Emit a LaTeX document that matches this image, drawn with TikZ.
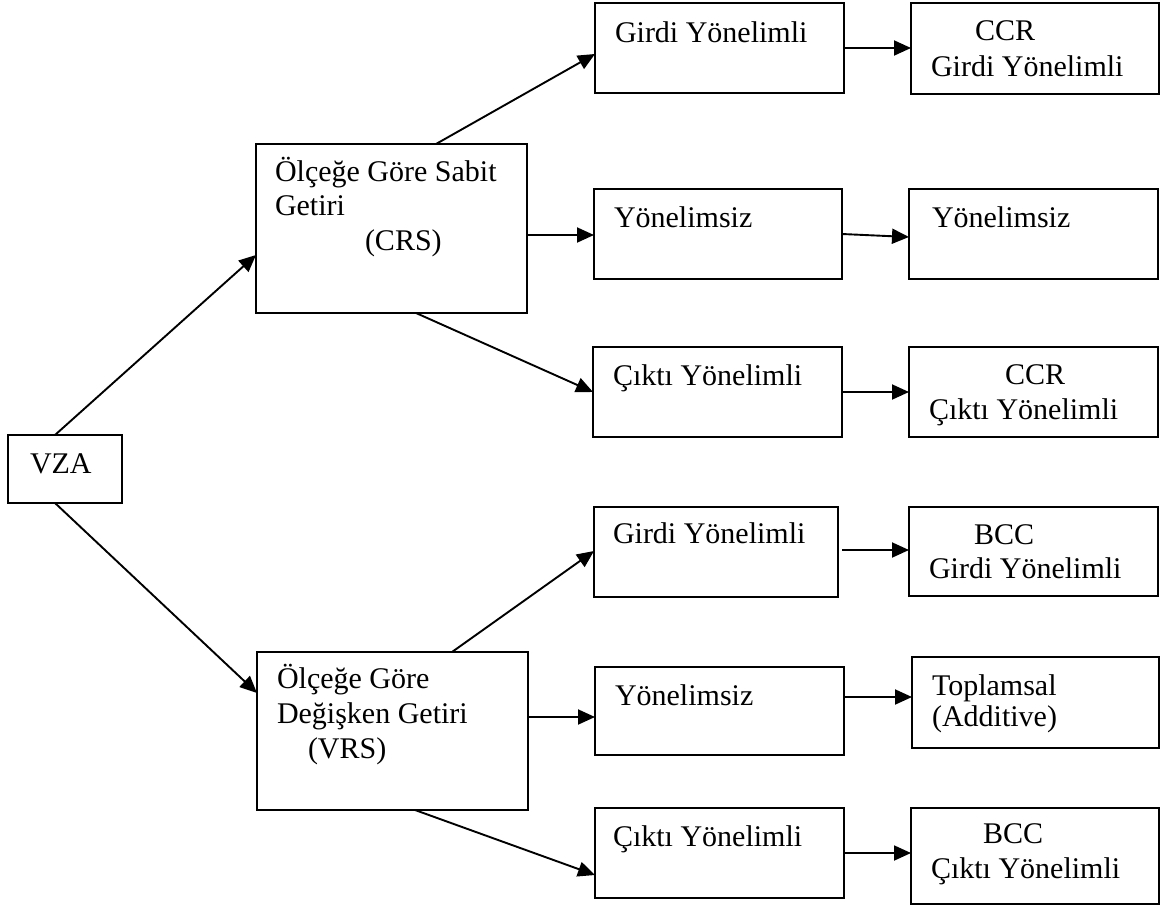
\documentclass[tikz,border=0pt]{standalone}
\usepackage{fontspec}
\setmainfont{Liberation Serif}
\usetikzlibrary{arrows.meta}
\tikzset{
  box/.style={draw=black, line width=2pt, rectangle, anchor=north west, inner sep=0pt, outer sep=0pt},
  txt/.style={anchor=base west, inner sep=0pt, outer sep=0pt, font=\fontsize{30}{34}\selectfont},
  arr/.style={line width=1.9pt, -{Triangle[length=17pt,width=15pt]}}
}
\begin{document}
\begin{tikzpicture}[x=1pt,y=-1pt]
\useasboundingbox (0,0) rectangle (1162,905);
% boxes
\node[box, minimum width=114pt, minimum height=68pt] (vza) at (8,435) {};
\node[box, minimum width=271pt, minimum height=169pt] (crs) at (256,144) {};
\node[box, minimum width=271pt, minimum height=158pt] (vrs) at (257,652) {};
\node[box, minimum width=249pt, minimum height=90pt] (g1) at (595,3) {};
\node[box, minimum width=248pt, minimum height=90pt] (y1) at (594,189) {};
\node[box, minimum width=249pt, minimum height=90pt] (c1) at (593,347) {};
\node[box, minimum width=244pt, minimum height=90pt] (g2) at (594,507) {};
\node[box, minimum width=249pt, minimum height=88pt] (y2) at (595,667) {};
\node[box, minimum width=249pt, minimum height=90pt] (c2) at (595,808) {};
\node[box, minimum width=248pt, minimum height=91pt] (ccrg) at (911,3) {};
\node[box, minimum width=249pt, minimum height=90pt] (yy) at (909,189) {};
\node[box, minimum width=249pt, minimum height=90pt] (ccrc) at (909,347) {};
\node[box, minimum width=249pt, minimum height=89pt] (bccg) at (909,507) {};
\node[box, minimum width=247pt, minimum height=91pt] (topl) at (912,657) {};
\node[box, minimum width=248pt, minimum height=96pt] (bccc) at (911,808) {};
% texts
\node[txt] (tvza) at (30,473) {VZA};
\node[txt] (tcrs1) at (275,181) {Ölçeğe Göre Sabit};
\node[txt] (tcrs2) at (275,215) {Getiri};
\node[txt] (tcrs3) at (365,250) {(CRS)};
\node[txt] (tvrs1) at (277,688) {Ölçeğe Göre};
\node[txt] (tvrs2) at (277,723) {Değişken Getiri};
\node[txt] (tvrs3) at (308,758) {(VRS)};
\node[txt] (tg1) at (615,42) {Girdi Yönelimli};
\node[txt] (ty1) at (614,227) {Yönelimsiz};
\node[txt] (tc1) at (613,385) {Çıktı Yönelimli};
\node[txt] (tg2) at (613,543) {Girdi Yönelimli};
\node[txt] (ty2) at (615,705) {Yönelimsiz};
\node[txt] (tc2) at (613,846) {Çıktı Yönelimli};
\node[txt] (tccrg1) at (975,40) {CCR};
\node[txt] (tccrg2) at (931,76) {Girdi Yönelimli};
\node[txt] (tyy) at (932,227) {Yönelimsiz};
\node[txt] (tccrc1) at (1005,384) {CCR};
\node[txt] (tccrc2) at (929,419) {Çıktı Yönelimli};
\node[txt] (tbccg1) at (974,544) {BCC};
\node[txt] (tbccg2) at (929,578) {Girdi Yönelimli};
\node[txt] (ttop1) at (932,695) {Toplamsal};
\node[txt] (ttop2) at (932,726) {(Additive)};
\node[txt] (tbccc1) at (983,843) {BCC};
\node[txt] (tbccc2) at (931,878) {Çıktı Yönelimli};
% connectors
\draw[arr] ([xshift=47pt]vza.north west) -- ([yshift=-111pt]crs.north west);
\draw[arr] ([xshift=47pt]vza.south west) -- ([yshift=-41pt]vrs.north west);
\draw[arr] ([xshift=180pt]crs.north west) -- ([yshift=-51pt]g1.north west);
\draw[arr] ([yshift=-91pt]crs.north east) -- ([yshift=-46pt]y1.north west);
\draw[arr] ([xshift=160pt]crs.south west) -- ([yshift=-45pt]c1.north west);
\draw[arr] ([xshift=195pt]vrs.north west) -- ([yshift=-44pt]g2.north west);
\draw[arr] ([yshift=-65pt]vrs.north east) -- ([yshift=-50pt]y2.north west);
\draw[arr] ([xshift=158pt]vrs.south west) -- ([yshift=-67pt]c2.north west);
\draw[arr] ([yshift=-45pt]g1.north east) -- ([yshift=-45pt]ccrg.north west);
\draw[arr] ([yshift=-45pt]y1.north east) -- ([yshift=-48pt]yy.north west);
\draw[arr] ([yshift=-45pt]c1.north east) -- ([yshift=-45pt]ccrc.north west);
\draw[arr] ([xshift=4pt,yshift=-43pt]g2.north east) -- ([yshift=-43pt]bccg.north west);
\draw[arr] ([yshift=-30pt]y2.north east) -- ([yshift=-40pt]topl.north west);
\draw[arr] ([yshift=-45pt]c2.north east) -- ([yshift=-45pt]bccc.north west);
\end{tikzpicture}
\end{document}
